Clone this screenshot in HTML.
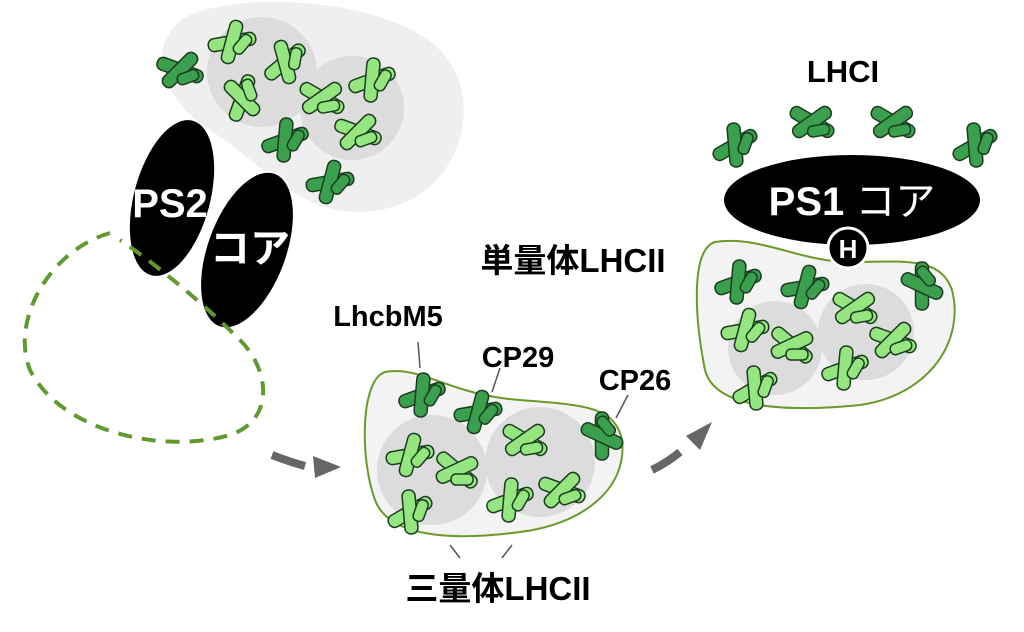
<!DOCTYPE html>
<html><head><meta charset="utf-8"><style>
html,body{margin:0;padding:0;background:#fff;width:1024px;height:632px;overflow:hidden}
text{font-family:"Liberation Sans","Noto Sans CJK JP",sans-serif;font-weight:bold}
</style></head><body>
<svg width="1024" height="632" viewBox="0 0 1024 632" xmlns="http://www.w3.org/2000/svg">
<defs>
<g id="pd">
<rect x="-24" y="-6.5" width="48" height="13" rx="6" fill="#3aa04e" stroke="#1b3d1f" stroke-width="1.5" transform="rotate(-10)"/>
<rect x="-6.5" y="-22" width="13" height="44" rx="6" fill="#3aa04e" stroke="#1b3d1f" stroke-width="1.5" transform="rotate(15)"/>
<rect x="4" y="-16" width="11" height="22" rx="5" fill="#3aa04e" stroke="#1b3d1f" stroke-width="1.5" transform="rotate(40)"/>
</g>
<g id="pl">
<rect x="-24" y="-6.5" width="48" height="13" rx="6" fill="#95e680" stroke="#1b3d1f" stroke-width="1.5" transform="rotate(-10)"/>
<rect x="-6.5" y="-22" width="13" height="44" rx="6" fill="#95e680" stroke="#1b3d1f" stroke-width="1.5" transform="rotate(15)"/>
<rect x="4" y="-16" width="11" height="22" rx="5" fill="#95e680" stroke="#1b3d1f" stroke-width="1.5" transform="rotate(40)"/>
</g>
</defs>
<path d="M190,15 C250,-10 390,0 440,50 C490,100 460,210 360,212 C300,212 270,170 210,130 C150,90 150,35 190,15Z" fill="#efefef"/>
<circle cx="262" cy="72" r="55" fill="#dcdcdc"/>
<circle cx="352" cy="108" r="52" fill="#dcdcdc"/>
<use href="#pd" transform="translate(180,70) rotate(30)"/>
<use href="#pd" transform="translate(285,140) rotate(-10)"/>
<use href="#pd" transform="translate(330,182) rotate(0)"/>
<use href="#pl" transform="translate(232,42) rotate(0)"/>
<use href="#pl" transform="translate(285,62) rotate(-30)"/>
<use href="#pl" transform="translate(242,98) rotate(-60)"/>
<use href="#pl" transform="translate(322,98) rotate(40)"/>
<use href="#pl" transform="translate(372,80) rotate(-10)"/>
<use href="#pl" transform="translate(358,132) rotate(30)"/>
<ellipse cx="172" cy="198" rx="38" ry="80" transform="rotate(15 172 198)" fill="#000"/>
<ellipse cx="247" cy="250" rx="40" ry="82" transform="rotate(20 247 250)" fill="#000" stroke="#fff" stroke-width="2"/>
<text x="170" y="217" font-size="40" fill="#fff" text-anchor="middle">PS2</text>
<text x="250" y="262" font-size="40" fill="#fff" text-anchor="middle" font-weight="normal">コア</text>
<path d="M110,233 C50,250 10,320 30,370 C60,430 160,455 230,435 C275,420 270,370 240,340 C200,300 150,260 120,240" fill="none" stroke="#5f9a2e" stroke-width="4" stroke-dasharray="14,10"/>
<path d="M272,455 Q290,462 305,466" stroke="#666" stroke-width="8" fill="none"/>
<polygon points="313,456 341,467 315,478" fill="#666"/>
<path d="M652,470 Q668,462 680,452" stroke="#666" stroke-width="8" fill="none"/>
<polygon points="686,436 712,422 700,450" fill="#666"/>
<path d="M385,372 C420,365 450,395 520,400 C580,405 615,405 622,440 C628,490 580,525 520,532 C460,540 390,540 375,500 C360,460 360,380 385,372Z" fill="#f3f3f3" stroke="#6a9a2a" stroke-width="2"/>
<circle cx="432" cy="470" r="55" fill="#dcdcdc"/>
<circle cx="540" cy="462" r="55" fill="#dcdcdc"/>
<use href="#pd" transform="translate(422,395) rotate(-10)"/>
<use href="#pd" transform="translate(478,412) rotate(0)"/>
<use href="#pd" transform="translate(602,436) rotate(-80)"/>
<use href="#pl" transform="translate(410,455)"/>
<use href="#pl" transform="translate(457,470) rotate(50)"/>
<use href="#pl" transform="translate(410,512) rotate(-20)"/>
<use href="#pl" transform="translate(525,440) rotate(40)"/>
<use href="#pl" transform="translate(510,500) rotate(-10)"/>
<use href="#pl" transform="translate(562,490) rotate(30)"/>
<line x1="418" y1="342" x2="420" y2="368" stroke="#555" stroke-width="1.5"/>
<line x1="500" y1="368" x2="492" y2="392" stroke="#555" stroke-width="1.5"/>
<line x1="628" y1="395" x2="616" y2="418" stroke="#555" stroke-width="1.5"/>
<line x1="450" y1="545" x2="460" y2="558" stroke="#555" stroke-width="1.5"/>
<line x1="512" y1="545" x2="502" y2="558" stroke="#555" stroke-width="1.5"/>
<text x="388" y="326" font-size="29" text-anchor="middle">LhcbM5</text>
<text x="518" y="367" font-size="29" text-anchor="middle">CP29</text>
<text x="635" y="390" font-size="29" text-anchor="middle">CP26</text>
<text x="498" y="600" font-size="33" text-anchor="middle">三量体LHCII</text>
<text x="573" y="272" font-size="33" text-anchor="middle">単量体LHCII</text>
<text x="843" y="82" font-size="31" text-anchor="middle">LHCI</text>
<path d="M715,242 C760,235 800,262 850,262 C900,262 940,255 952,290 C965,340 930,395 860,405 C790,412 715,410 705,370 C695,320 690,250 715,242Z" fill="#f3f3f3" stroke="#6a9a2a" stroke-width="2"/>
<circle cx="775" cy="348" r="47" fill="#dcdcdc"/>
<circle cx="866" cy="332" r="48" fill="#dcdcdc"/>
<use href="#pd" transform="translate(738,282) rotate(-10)"/>
<use href="#pd" transform="translate(805,287)"/>
<use href="#pd" transform="translate(922,286) rotate(-80)"/>
<use href="#pl" transform="translate(745,330)"/>
<use href="#pl" transform="translate(792,345) rotate(50)"/>
<use href="#pl" transform="translate(755,388) rotate(-20)"/>
<use href="#pl" transform="translate(855,308) rotate(40)"/>
<use href="#pl" transform="translate(845,368) rotate(-10)"/>
<use href="#pl" transform="translate(893,340) rotate(30)"/>
<ellipse cx="852" cy="200" rx="128" ry="45" fill="#000"/>
<text x="852" y="215" font-size="40" fill="#fff" text-anchor="middle"><tspan>PS1 </tspan><tspan font-weight="normal">コア</tspan></text>
<circle cx="848" cy="248" r="20" fill="#000" stroke="#fff" stroke-width="3"/>
<text x="848" y="258" font-size="26" fill="#fff" text-anchor="middle">H</text>
<use href="#pd" transform="translate(735,145) rotate(-20)"/>
<use href="#pd" transform="translate(812,122) rotate(40)"/>
<use href="#pd" transform="translate(893,122) rotate(40)"/>
<use href="#pd" transform="translate(975,145) rotate(-20)"/>
</svg>
</body></html>
